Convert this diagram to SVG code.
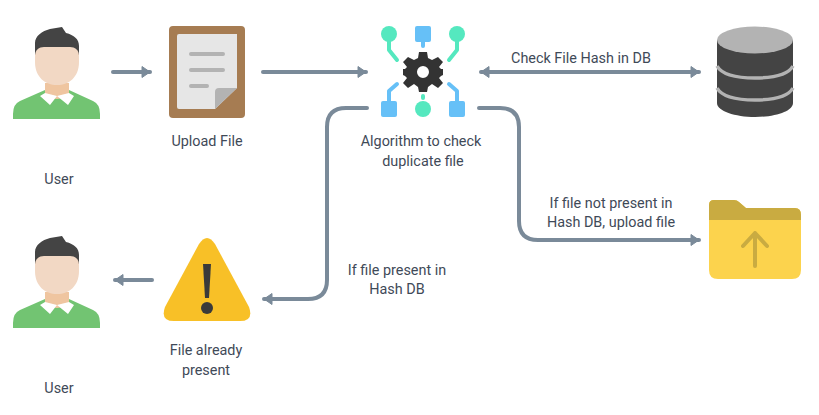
<svg xmlns="http://www.w3.org/2000/svg" width="819" height="415" viewBox="0 0 819 415">
<style>
text{font-family:"Roboto","Liberation Sans",sans-serif;font-size:14.4px;fill:#3f4a58;text-anchor:middle}
.c{fill:none;stroke:#7a8a99;stroke-width:4;stroke-linecap:round;stroke-linejoin:round}
.t{fill:#55e8bf}.b{fill:#66c0f7}
.tl{fill:none;stroke:#55e8bf;stroke-width:4;stroke-linecap:round;stroke-linejoin:round}
.bl{fill:none;stroke:#66c0f7;stroke-width:4;stroke-linecap:round;stroke-linejoin:round}
</style>
<defs>
<marker id="a" markerUnits="userSpaceOnUse" markerWidth="14" markerHeight="16" refX="10" refY="7" orient="auto-start-reverse"><path d="M2 1.5 L10 7 L2 12.5 Z" fill="#7a8a99" stroke="#7a8a99" stroke-linejoin="round"/></marker>
<g id="person">
<path d="M13 114 Q13 104 20 101 L45 90 H69 L93 101 Q100 104 100 114 V119 H13 Z" fill="#72c472"/>
<path d="M45 83 H69 V96 Q57 102 45 96 Z" fill="#efc5a0"/>
<path d="M45 93 L57 96 L50 105 L40 96 Z M69 93 L57 96 L68 105 L74 96 Z" fill="#fff"/>
<path d="M35 55 V43 C35 36 42 31 50 29 L62 27 L66 33 C74 35 79 39 79 46 V55 Z" fill="#444"/>
<path d="M35 56 C35 50 39 47 44 47 H70 C75 47 79 50 79 56 V62 C79 77 69 85 57 85 C45 85 35 77 35 62 Z" fill="#f2d8c4"/>
</g>
</defs>
<g id="connectors">
<path class="c" d="M113 72 H150" marker-end="url(#a)"/>
<path class="c" d="M263 72 H366" marker-end="url(#a)"/>
<path class="c" d="M481 72 H699" marker-start="url(#a)" marker-end="url(#a)"/>
<path class="c" d="M367 108 H346 Q327 108 327 127 V280 Q327 299 308 299 H264" marker-end="url(#a)"/>
<path class="c" d="M479 108 H500 Q519 108 519 127 V221 Q519 240 538 240 H699" marker-end="url(#a)"/>
<path class="c" d="M152 280 H115" marker-end="url(#a)"/>
</g>
<g id="user-top"><use href="#person"/><text x="59" y="184">User</text></g>
<g id="upload-file">
<rect x="169" y="26" width="76" height="92" rx="4" fill="#a67c52"/>
<path d="M177 36 Q177 34 179 34 H237 V88 L215 109 H179 Q177 109 177 107 Z" fill="#e6e6e6"/>
<path d="M237 88 L215 109 V92 Q215 88 219 88 Z" fill="#b3b3b3"/>
<path d="M191 54 H223 M191 70 H223 M191 86 H207" fill="none" stroke="#b3b3b3" stroke-width="4" stroke-linecap="round"/>
<text x="207" y="146">Upload File</text>
</g>
<g id="algorithm">
<circle class="t" cx="389" cy="34" r="8"/><circle class="t" cx="457" cy="34" r="8"/>
<rect class="b" x="415" y="26" width="16" height="16" rx="2"/>
<path class="tl" d="M389 40 V50 L397 60 M457 40 V50 L449 60"/>
<path class="bl" d="M423 42 V46"/>
<rect class="b" x="381" y="101" width="16" height="16" rx="2"/><rect class="b" x="449" y="101" width="16" height="16" rx="2"/>
<circle class="t" cx="423" cy="109" r="8"/>
<path class="bl" d="M389 101 V91 L397 84 M457 101 V91 L449 84"/>
<path class="tl" d="M423 98 V96"/>
<path fill="#333" fill-rule="evenodd" d="M419 52 H427 L428 58 L432 60 L438 57 L443 62 L439 67 L441 69 H443 V75 L441 76 L439 78 L443 83 L438 88 L432 84 L428 87 L427 92 H419 L418 87 L414 84 L408 88 L403 83 L407 78 L405 76 L403 75 V69 L405 69 L407 67 L403 62 L408 57 L414 60 L418 58 Z M423 66 A6 6 0 1 0 423 78 A6 6 0 1 0 423 66 Z"/>
<text x="421" y="146">Algorithm to check</text>
<text x="423" y="166">duplicate file</text>
</g>
<g id="database">
<path d="M717 40 V103 C717 111 735 117 755 117 C776 117 793 111 793 103 V40 Z" fill="#444"/>
<path d="M717 66 C722 75 738 78 755 78 C772 78 788 75 793 66 M717 88 C722 97 738 100 755 100 C772 100 788 97 793 88" fill="none" stroke="#b3b3b3" stroke-width="3.5"/>
<ellipse cx="755" cy="40" rx="38" ry="13.5" fill="#b3b3b3"/>
</g>
<g id="folder">
<path d="M709 205 Q709 200 714 200 H734 Q737 200 739 202 L746 208 H795 Q801 208 801 215 V270 Q801 279 792 279 H718 Q709 279 709 270 Z" fill="#fcd34d"/>
<path d="M709 220 V205 Q709 200 714 200 H734 Q737 200 739 202 L746 208 H795 Q801 208 801 215 V220 Z" fill="#c9ab41"/>
<path d="M755 266 V233 M743 246 L755 233 L767 246" fill="none" stroke="#c9ab41" stroke-width="4" stroke-linecap="round" stroke-linejoin="round"/>
</g>
<g id="warning">
<path d="M199 244 Q207 232 215 244 L249 307 Q254 321 240 321 H174 Q160 321 165 307 Z" fill="#f8c027"/>
<path d="M203 264 H211 L209 298 H205 Z" fill="#3a3a3a"/><circle cx="207" cy="308" r="6" fill="#3a3a3a"/>
<text x="206" y="355">File already</text>
<text x="206" y="375">present</text>
</g>
<g id="user-bottom"><use href="#person" y="209"/><text x="59" y="393">User</text></g>
<g id="labels">
<text x="581" y="63">Check File Hash in DB</text>
<text x="611" y="208">If file not present in</text>
<text x="611" y="227">Hash DB, upload file</text>
<text x="397" y="275">If file present in</text>
<text x="397" y="294">Hash DB</text>
</g>
</svg>
